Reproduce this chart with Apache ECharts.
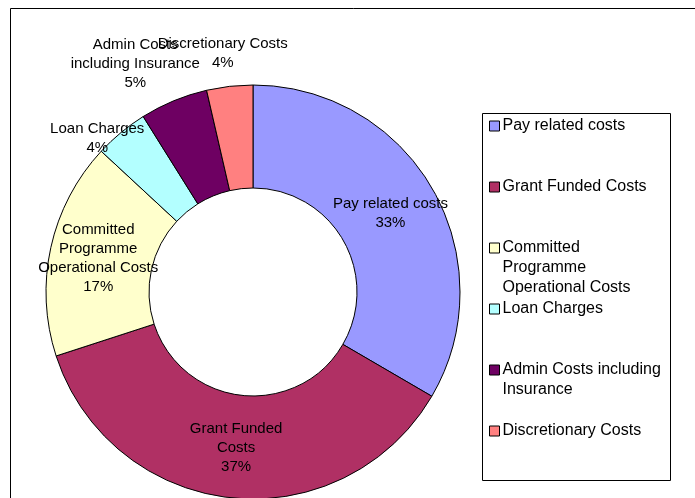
<!DOCTYPE html>
<html>
<head>
<meta charset="utf-8">
<script src="https://cdn.jsdelivr.net/npm/echarts@6/dist/echarts.min.js"></script>
<style>
html,body{margin:0;padding:0;background:#fff;}
#chart{width:695px;height:498px;}
</style>
</head>
<body>
<div id="chart"></div>
<script>
// ---- data ----
var categories = ['Pay related costs', 'Grant Funded Costs', 'Committed Programme Operational Costs', 'Loan Charges', 'Admin Costs including Insurance', 'Discretionary Costs'];
var values = [33.4, 36.6, 16.9, 4.2, 5.3, 3.6];
var sliceLabels = ['Pay related costs', 'Grant Funded\nCosts', 'Committed\nProgramme\nOperational Costs', 'Loan Charges', 'Admin Costs\nincluding Insurance', 'Discretionary Costs'];
var legendLabels = ['Pay related costs', 'Grant Funded Costs', 'Committed\nProgramme\nOperational Costs', 'Loan Charges', 'Admin Costs including\nInsurance', 'Discretionary Costs'];
var colors = ['#9999FF', '#B03064', '#FFFFCC', '#B3FFFF', '#6E0062', '#FF8080'];
var outsideIdx = [3, 4, 5];

// ---- styles ----
var FONT = 'Liberation Sans, Arial, sans-serif';
var center = [253, 292];
var labelOffsets = {1: [0, -2], 3: [-13, 19], 4: [-32, -21], 5: [-5, -16]};

var mainData = categories.map(function (c, i) {
  var inside = outsideIdx.indexOf(i) < 0;
  return {
    name: c, value: values[i],
    itemStyle: {color: colors[i]},
    label: {show: inside, offset: labelOffsets[i] || [0, 0]}
  };
});
var ghostData = categories.map(function (c, i) {
  var outside = outsideIdx.indexOf(i) >= 0;
  return {
    name: c, value: values[i],
    label: {show: outside, offset: labelOffsets[i] || [0, 0]}
  };
});

var legends = categories.map(function (c, i) {
  var lines = legendLabels[i].split('\n').length;
  var pad = '';
  for (var k = 1; k < lines; k++) pad += '\n';
  var iconCenter = 126 + 61 * i;
  var total = lines + (lines - 1);
  return {
    data: [c],
    left: 489,
    top: iconCenter - total * 20 / 2,
    padding: 0,
    orient: 'vertical',
    icon: 'rect',
    itemWidth: 10,
    itemHeight: 10,
    itemStyle: {borderColor: '#000', borderWidth: 1},
    selectedMode: false,
    formatter: function () { return pad + legendLabels[i]; },
    textStyle: {fontFamily: FONT, fontSize: 16, lineHeight: 20, color: '#000', padding: [0, 0, 0, -2]}
  };
});

var chart = echarts.init(document.getElementById('chart'), null, {renderer: 'canvas'});
chart.setOption({
  animation: false,
  backgroundColor: '#fff',
  graphic: [
    {type: 'rect', shape: {x: 10.5, y: 8.5, width: 720, height: 520}, style: {fill: 'none', stroke: '#000', lineWidth: 1}, silent: true},
    {type: 'rect', shape: {x: 482.5, y: 113.5, width: 188, height: 367}, style: {fill: '#fff', stroke: '#000', lineWidth: 1}, silent: true, z: -1}
  ],
  legend: legends,
  series: [
    {
      type: 'pie',
      center: center,
      radius: [104, 207],
      startAngle: 90,
      clockwise: true,
      percentPrecision: 0,
      avoidLabelOverlap: false,
      itemStyle: {borderColor: '#000', borderWidth: 1},
      label: {
        position: 'inside',
        formatter: function (p) { return sliceLabels[p.dataIndex] + '\n' + p.percent + '%'; },
        fontFamily: FONT, fontSize: 15, lineHeight: 19, color: '#000'
      },
      labelLine: {show: false},
      labelLayout: {hideOverlap: false},
      emphasis: {disabled: true},
      data: mainData
    },
    {
      type: 'pie',
      center: center,
      radius: [207, 235],
      startAngle: 90,
      clockwise: true,
      percentPrecision: 0,
      minShowLabelAngle: 0,
      silent: true,
      avoidLabelOverlap: false,
      itemStyle: {color: 'rgba(0,0,0,0)', borderWidth: 0},
      label: {
        position: 'inside',
        formatter: function (p) { return sliceLabels[p.dataIndex] + '\n' + p.percent + '%'; },
        fontFamily: FONT, fontSize: 15, lineHeight: 19, color: '#000'
      },
      labelLine: {show: false},
      labelLayout: {hideOverlap: false},
      emphasis: {disabled: true},
      z: 3,
      data: ghostData
    }
  ]
});
</script>
</body>
</html>
